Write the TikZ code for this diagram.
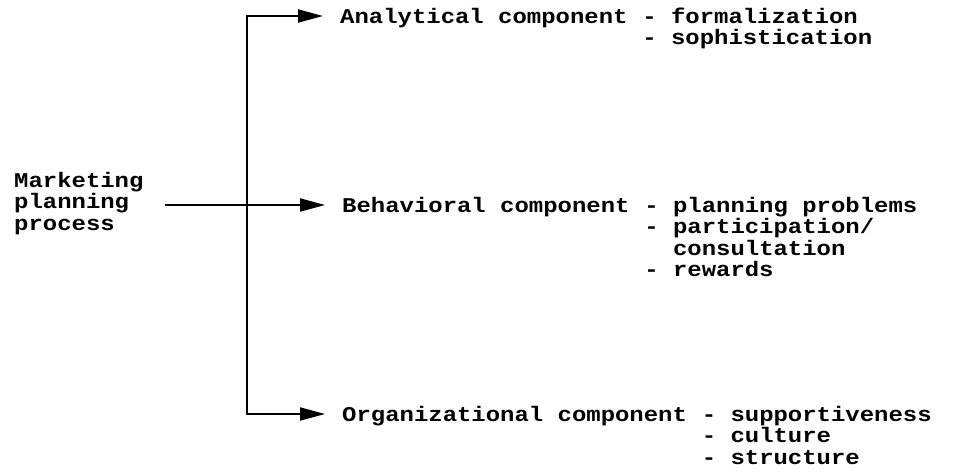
\documentclass[tikz,border=0pt]{standalone}
\usepackage{fontspec}
\newfontfamily\typewriter{Liberation Mono}[FakeStretch=1.14]
\usetikzlibrary{arrows.meta, positioning}

\begin{document}
\begin{tikzpicture}[
    x=1pt, y=-1pt,
    txt/.style={font=\typewriter\bfseries\fontsize{21}{21.5}\selectfont, inner sep=0pt, align=flush left},
    comp/.style={txt, anchor=base west, text height=14pt, text depth=0pt},
    items/.style={txt, text width=300pt, anchor=base west},
    arrow/.style={-{Triangle[length=25pt, width=13pt]}, line width=2pt, shorten >=17pt}
]
\useasboundingbox (0,0) rectangle (955,474);

\node[txt, text width=140pt, anchor=base west] (mpp) at (14,187) {Marketing\\planning\\process};

\node[comp] (ana) at (340,23) {Analytical component};
\node[comp] (beh) at (342,212) {Behavioral component};
\node[comp] (org) at (342,421) {Organizational component};

\node[items, right=14.4pt of ana.base east, anchor=base west] (anaitems)
    {- formalization\\- sophistication};
\node[items, right=14.4pt of beh.base east, anchor=base west] (behitems)
    {- planning problems\\- participation/\\\phantom{- }consultation\\- rewards};
\node[items, right=14.4pt of org.base east, anchor=base west] (orgitems)
    {- supportiveness\\- culture\\- structure};

\coordinate (fork) at (247,204);

\draw[arrow, shorten <=11pt] (mpp.base east |- beh.west) -- (beh.west);
\draw[arrow] (fork) -- (fork |- ana.west) -- (ana.west);
\draw[arrow] (fork) -- (fork |- org.west) -- (org.west);
\end{tikzpicture}
\end{document}
